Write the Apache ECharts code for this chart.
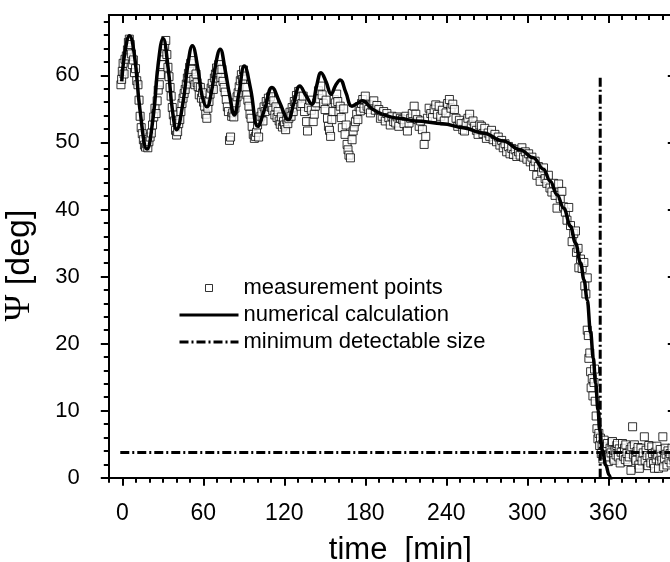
<!DOCTYPE html>
<html>
<head>
<meta charset="utf-8">
<title>Psi vs time</title>
<script src="https://cdn.jsdelivr.net/npm/echarts@6.0.0/dist/echarts.min.js"></script>
<style>
  html, body { margin: 0; padding: 0; background: #fff; }
  #chart { width: 670px; height: 562px; }
</style>
</head>
<body>
<div id="chart"></div>
<script>
const measurementPoints = [
  [-1,58.6],[-0.5,59.4],[0,60.6],[0.6,61.8],[1.3,60.2],[2,62.4],[3,62.9],[3.8,63.8],[4.5,64.9],[5.2,65.4],
  [5.9,64.6],[6.7,63.2],[7.4,61.6],[8.2,62.3],[9,60.4],[9.8,61],[10.7,59.2],[11.6,58.6],[12.4,56.3],[13.2,53.9],
  [14,52.2],[14.8,51.3],[15.6,50.4],[16.4,49.6],[17.2,49.3],[18,49.8],[18.9,49.2],[19.7,50.1],
  [20.6,50.8],[21.5,51.4],[22.4,52.6],[23.3,53.8],[24.2,55.1],[25,54.3],[25.8,56.2],[26.6,57.8],[27.4,58.6],[28.2,60.1],
  [29,61.6],[29.8,62.8],[30.6,63.5],[31.4,64.4],[32.2,65.2],[33,63.1],[33.8,61.2],[34.6,59.8],[35.4,58.2],[36.2,56.9],
  [37,55.2],[37.8,54.1],[38.6,53.2],[39.4,51.8],[40.2,51.1],[41,51.6],[41.8,52.8],[42.6,53.4],[43.4,54.6],[44.2,55.8],
  [45,56.6],[45.8,57.3],[46.6,57.9],[47.4,58.7],[48.2,59.6],[49,60.3],[49.8,61.2],[50.6,61.8],[51.4,60.9],[52.2,62.2],
  [53,59.4],[53.8,58.6],[54.6,60.2],[55.4,58.9],[56.2,58.3],[57,57.1],[57.8,58.2],[58.6,56.6],[59.4,57.4],[60.2,56],
  [61,55.4],[61.8,54.2],[62.6,53.6],[63.4,55.1],[64.2,56.1],
  [65,57.2],[65.8,58.1],[66.6,58.8],[67.4,57.9],[68.2,59.6],[69,60.2],[69.8,61.1],[70.6,60.4],[71.4,61.6],[72.2,60.8],
  [73,59.7],[73.8,60.9],[74.6,59.1],[75.4,58.2],[76.2,57.5],[77,56.4],[77.8,55.3],[78.6,54.6],[79.4,50.3],[80.2,50.8],
  [81,53.9],[81.8,54.4],[82.6,53.8],[83.4,55.1],[84.2,55.9],[85,56.8],[85.8,57.4],[86.6,58.3],[87.4,59.2],[88.2,60.1],
  [89,59.4],[89.8,60.8],[90.6,59.9],[91.4,58.2],[92.2,57.1],[93,56.3],[93.8,55.4],[94.6,54.2],[95.4,53.6],[96.2,52.4],
  [97,51.2],[97.8,50.6],[98.6,50.9],[99.4,51.5],[100.2,52.6],[101,50.8],[101.8,53.4],
  [102.6,53.9],[103.4,54.5],[104.2,53.2],[105,55.3],[105.8,54.6],[106.6,56.1],[107.4,55.4],[108.2,56.6],[109,55.9],[109.8,56.8],
  [110.6,55.2],[111.4,54.8],[112.2,56.2],[113,54.1],[113.8,55.3],[114.6,53.7],[115.4,54.6],[116.2,53.2],[117,52.7],[117.8,53.8],
  [118.6,52.3],[119.4,53.1],[120.2,52.6],[121,51.9],[121.8,53.4],[122.6,52.8],[123.4,53.6],[124.2,54.5],[125,53.9],[125.8,55.2],
  [126.6,54.6],[127.4,56.1],[128.2,55.7],[129,57],[129.8,56.4],[130.6,57.6],[131.4,56.8],[132.2,55.4],
  [133,55.8],[134,56.9],[135,54.6],[136.5,53.1],[137.2,51.7],[138,55.2],[139,56.3],[140,54.8],[141.4,53.1],[142.2,54.2],
  [143,55.4],[144,55.9],[145.3,57.7],[146.2,56.5],[147,58.4],[148,57.1],[149,55.8],[150.2,54.9],[151,56.3],[152,53.6],
  [152.7,52.4],[153.5,51.8],[154.3,50.9],[155.2,53.4],[156,54.6],[157,56.4],[157.8,55.9],[158.8,57.2],[159.6,56.1],[160.5,54.6],
  [161.4,55.4],[162.2,53.7],[163,52.2],[164,55],[165,51.2],[165.8,52.6],[166.5,49.7],[167.2,48.9],[167.9,48.1],[169,47.7],
  [170.2,50.4],[171,51.7],[171.8,52.3],[172.7,53.1],[173.6,54.2],[174.5,53.4],[175.4,55.3],[176.3,54.7],[177.2,55.8],[178.1,56.4],
  [179,55.1],[180,56.9],
  [181.3,55.4],[182.5,54.9],[183.8,54.4],[185,55.6],[186.3,56.2],[187.4,54.8],[188.6,55.5],[190,54.9],[191.2,53.6],[192.5,53.9],
  [193.6,54.6],[194.8,53.2],[196,54.3],[197.4,53.7],[198.5,52.6],[199.7,53.9],[201,53.1],[202.5,52.9],[203.6,53.8],[204.8,52.4],
  [206,53.6],[207.5,53.4],[208.7,52.8],[210,53.9],[211.2,51.7],[212.4,52.9],[213.6,53.6],[214.8,54.3],[216.2,55.4],[217.4,54.2],
  [218.6,53.4],[219.9,52.4],[221,53.2],[222.3,51.9],[223.6,49.7],[224.8,50.9],[226,53.6],[227.3,55.1],[228.5,54.3],[229.8,53.7],
  [231,54.9],[232.2,55.6],[233.4,54.2],[234.7,55.4],[235.9,53.9],[237.1,54.8],[238.5,53.2],[239.8,54.4],[241,55.8],[242.3,56.4],
  [243.5,55.1],[244.8,55.7],[246,54.9],[247.2,53.6],[248.5,52.4],[249.7,53.3],[251,52.8],[252.2,51.9],[253.5,51.7],[254.7,52.9],
  [256,53.6],[257.3,54.2],[258.5,52.6],[259.8,53.2],[261,52.4],[262.3,51.8],[263.5,51.2],[264.8,52.6],[266,52.4],
  [267.2,51.3],[268.5,52.1],[269.7,50.6],[271,51.4],[272.2,50.9],[273.5,51.8],[274.7,50.4],[276,51.2],[277.2,50.1],[278.5,50.8],
  [279.7,49.6],[281,50.3],[282.2,49.2],[283.5,49.8],[284.7,48.6],[286,49.4],[287.2,48.3],[288.5,49.1],[289.7,48.2],
  [291,48.9],[292.2,47.9],[293.5,48.6],[294.7,48.1],[296,49.2],[297.2,47.8],[298.5,48.6],[299.7,47.5],[301,48.3],[302.2,47.1],
  [303.4,47.8],[304.6,46.4],[305.8,47.2],[307,45.1],[308.2,46.4],[309.5,44.2],[310.7,45.6],[312,46.2],[313.2,44.6],[314.4,43.9],
  [315.6,45.1],[316.8,43.2],[318.2,42.6],[319.4,43.9],[320.6,42.1],[322,40.2],[323.2,43.8],[324.4,41.6],[325.6,42.7],[326.8,40.4],
  [328.2,39.6],[329.4,38.4],[330.7,40.3],[332,37.6],[333.2,35.2],[334.4,36.4],[335.7,36.8],[336.4,33.6],[337.6,34.2],[338.2,31.3],
  [339.4,32.6],[340.6,31.2],[341.9,32.1],[342.6,28.6],[343.4,27.4],[344.4,29.8],
  [344.4,22],[345.2,21.2],[345.6,17.8],[346.3,18.6],[346.9,15.8],[347.3,13.4],[348.1,14.8],[348.6,12.2],[349.4,14.2],[349.8,16.2],
  [350.3,11.4],[351,9.2],[351.6,7.3],[352.3,5.8],[353,6.6],[353.6,4.8],
  [354.2,5.9],[354.8,3.6],[355.4,4.9],[356,2.8],[356.9,5.6],[357.5,4.2],[358.1,3.4],[358.8,4.6],[359.4,5.1],[360,2.4],
  [360.6,3.1],[361.3,4.4],[362,3.7],[362.6,5.2],[363.1,5.4],[363.8,2.9],[364.3,2.6],[365,4.1],[365.7,3.4],[366.3,4.8],
  [366.8,5.1],[367.4,3.1],[368.1,4.3],[368.8,2.2],[369.5,3.8],[370.5,5.1],[371.2,3.2],[372,4.4],[372.6,2.7],[373,4.9],
  [373.8,3.6],[374.5,2.4],[375.5,3.1],[376.2,4.2],[376.8,1.1],[377.4,4.6],[378,7.6],[378.6,3.4],[379.3,4.9],[380,2.9],
  [380.5,2.6],[381.2,3.9],[382,4.5],[382.6,1.9],[383,1.4],[383.6,3.2],[384.2,4.4],[385,2.5],[385.8,3.7],[386.7,6.1],
  [387.3,2.6],[388,4.1],[388.7,3.3],[389.4,1.8],[390,4.8],[390.8,3.1],[391.5,2.2],[392.2,4.6],[392.8,3.6],[393.5,2.1],
  [394.2,1.4],[394.8,3.8],[395.5,2.8],[396,4.7],[396.6,3.4],[397.2,1.4],[397.9,2.5],[398.5,4.2],[399.1,3.2],[399.7,2.6],
  [400.4,6.1],[401,1.6],[401.6,2.9],[402.2,4.4],[402.8,3.5],[403.5,1.9],[404.2,4],[405,2.7],[405.8,3.6],[406.5,2.2],
  [407.2,4.4],[408,3.1],[408.8,2.5]
];

// numerical calculation, oscillating part [time, Psi]
const curveOscillation = [
  [-0.4,59.1],[2,63.5],[5.3,65.9],[9,63],[13,55],[18.3,49.0],[23,54],[26.5,61.5],[30.2,65.5],[34,61],
  [37,55],[40.2,51.9],[45,56],[48.5,61.5],[51.9,64.4],[56,61],[59,57],[62.6,55.3],[66,57.5],[69.5,62],
  [72.5,63.9],[76,61],[79.5,57],[83,54.1],[86.5,57.5],[90.4,61.4],[95,58],[100.4,52.4],[105.5,55],[110.9,58.2],
  [116.5,56],[122.9,53.4],[127,55.8],[131.5,58.4],[136,57],[140.3,55.7],[144,58.5],[147.2,60.4],[151,59],[154.7,57.2],
  [158,58.5],[161.4,59.3],[165.5,57.5],[170.1,55.4],[174,55.8],[177.6,56.2],[185,55],[192.6,54.2]
];
// numerical calculation, decaying part [time, Psi]
const curveDecay = [
  [192.6,54.2],[205,53.6],[217.5,53.2],
  [237.4,52.8],[252.3,52.2],[267.2,51.4],[282.2,50.2],[294.6,48.9],[304.5,47.7],[312,46.0],[317,44.2],[322,42.2],[327,40.2],
  [332,37.5],[335.7,35],[339.5,32],[342,29.5],[344.4,26.5],[346.9,21.6],[348.9,17.8],[350.6,14.1],[352.4,10.1],[353.6,7.1],
  [355.6,4.1],[358.1,1.9],[360.6,0.4],[362,-0.5]
];

// minimum detectable size: horizontal level and the time it is reached
const detectLimitPsi = 3.75;
const detectLimitSpan = [-1.5, 410];
const detectTime = 354;
const detectTimeSpan = [0, 60];

// ticks
const xMajorTicks = [0, 60, 120, 180, 240, 300, 360];
const xMinorTicks = [-10, 0, 10, 20, 30, 40, 50, 60, 70, 80, 90, 100, 110, 120, 130, 140, 150, 160, 170, 180, 190,
  200, 210, 220, 230, 240, 250, 260, 270, 280, 290, 300, 310, 320, 330, 340, 350, 360, 370, 380, 390, 400];
const yMajorTicks = [0, 10, 20, 30, 40, 50, 60];
const yMinorTicks = [0, 2, 4, 6, 8, 10, 12, 14, 16, 18, 20, 22, 24, 26, 28, 30, 32, 34, 36, 38, 40,
  42, 44, 46, 48, 50, 52, 54, 56, 58, 60, 62, 64, 66, 68];

const FONT = '"Liberation Sans", Arial, Helvetica, sans-serif';
const X_MIN = -10, X_MAX = 410, Y_MIN = 0, Y_MAX = 69;

const chart = echarts.init(document.getElementById('chart'), null, { renderer: 'canvas' });

// one axis drawing either minor or major ticks; labels only on the main one
function xAxisDef(position, ticks, len, inside, main) {
  return {
    type: 'value', position: position, min: X_MIN, max: X_MAX,
    axisLine: { show: main, onZero: false, lineStyle: { color: '#000', width: 2 } },
    axisTick: { show: true, inside: inside, length: len, customValues: ticks, lineStyle: { color: '#000', width: 2 } },
    axisLabel: position === 'bottom' && main
      ? { show: true, customValues: xMajorTicks, margin: 24, fontSize: 23, color: '#000', fontFamily: FONT }
      : { show: false },
    splitLine: { show: false }
  };
}
function yAxisDef(position, ticks, len, inside, main) {
  return {
    type: 'value', position: position, min: Y_MIN, max: Y_MAX,
    axisLine: { show: main, onZero: false, lineStyle: { color: '#000', width: 2 } },
    axisTick: { show: true, inside: inside, length: len, customValues: ticks, lineStyle: { color: '#000', width: 2 } },
    axisLabel: position === 'left' && main
      ? { show: true, customValues: yMajorTicks, margin: 29, fontSize: 22, color: '#000', fontFamily: FONT }
      : { show: false },
    splitLine: { show: false }
  };
}

const xBottom = xAxisDef('bottom', xMinorTicks, 5, false, true);
xBottom.name = 'time  [min]';
xBottom.nameLocation = 'middle';
xBottom.nameGap = 57;
xBottom.nameTextStyle = { fontSize: 31, color: '#000', fontFamily: FONT, padding: [0, 0, 0, 16] };

const yLeft = yAxisDef('left', yMinorTicks, 5, false, true);
yLeft.name = '{psi|Ψ} [deg]';
yLeft.nameLocation = 'middle';
yLeft.nameGap = 71;
yLeft.nameTextStyle = {
  fontSize: 34, color: '#000', fontFamily: FONT, padding: [0, 38, 0, 0],
  rich: { psi: { fontSize: 36, fontFamily: '"Liberation Serif", "Times New Roman", serif', color: '#000' } }
};

const curveStyle = { color: '#000', width: 3.5 };
const dashDot = { color: '#000', width: 3, type: [9, 3, 2, 3] };

const option = {
  animation: false,
  backgroundColor: '#fff',
  grid: { left: 108.8, right: -5.8, top: 15, bottom: 84.3, outerBoundsMode: 'none', containLabel: false },
  xAxis: [
    xBottom,
    xAxisDef('bottom', xMajorTicks, 8, false, false),
    xAxisDef('top', xMinorTicks, 5, true, true),
    xAxisDef('top', xMajorTicks, 8, true, false)
  ],
  yAxis: [
    yLeft,
    yAxisDef('left', yMajorTicks, 8, false, false),
    yAxisDef('right', yMinorTicks, 5, true, true),
    yAxisDef('right', yMajorTicks, 8, true, false)
  ],
  legend: {
    orient: 'vertical', left: 173, top: 271,
    itemWidth: 59, itemHeight: 7, itemGap: 3,
    textStyle: { fontSize: 22, color: '#000', fontFamily: FONT, lineHeight: 24 },
    lineStyle: { width: 3 },
    data: [
      { name: 'measurement points', icon: 'path://M0,0L10,0L10,10L0,10Z',
        itemStyle: { color: '#fff', borderColor: '#000', borderWidth: 1 } },
      { name: 'numerical calculation', itemStyle: { opacity: 0 } },
      { name: 'minimum detectable size', itemStyle: { opacity: 0 } }
    ]
  },
  series: [
    {
      name: 'measurement points',
      type: 'scatter',
      data: measurementPoints,
      symbol: 'rect',
      symbolSize: 8,
      itemStyle: { color: '#fff', borderColor: '#000', borderWidth: 1 }
    },
    {
      name: 'minimum detectable size',
      type: 'line',
      data: [[detectLimitSpan[0], detectLimitPsi], [detectLimitSpan[1], detectLimitPsi]],
      showSymbol: false, symbol: 'none',
      lineStyle: dashDot
    },
    {
      name: 'minimum detectable size',
      type: 'line',
      data: [[detectTime, detectTimeSpan[0]], [detectTime, detectTimeSpan[1]]],
      showSymbol: false, symbol: 'none',
      lineStyle: dashDot
    },
    {
      name: 'numerical calculation',
      type: 'line',
      data: curveOscillation,
      smooth: 0.45,
      showSymbol: false, symbol: 'none',
      lineStyle: curveStyle
    },
    {
      name: 'numerical calculation',
      type: 'line',
      data: curveDecay,
      smooth: 0.4,
      smoothMonotone: 'x',
      showSymbol: false, symbol: 'none',
      lineStyle: curveStyle
    }
  ]
};

chart.setOption(option);
</script>
</body>
</html>
